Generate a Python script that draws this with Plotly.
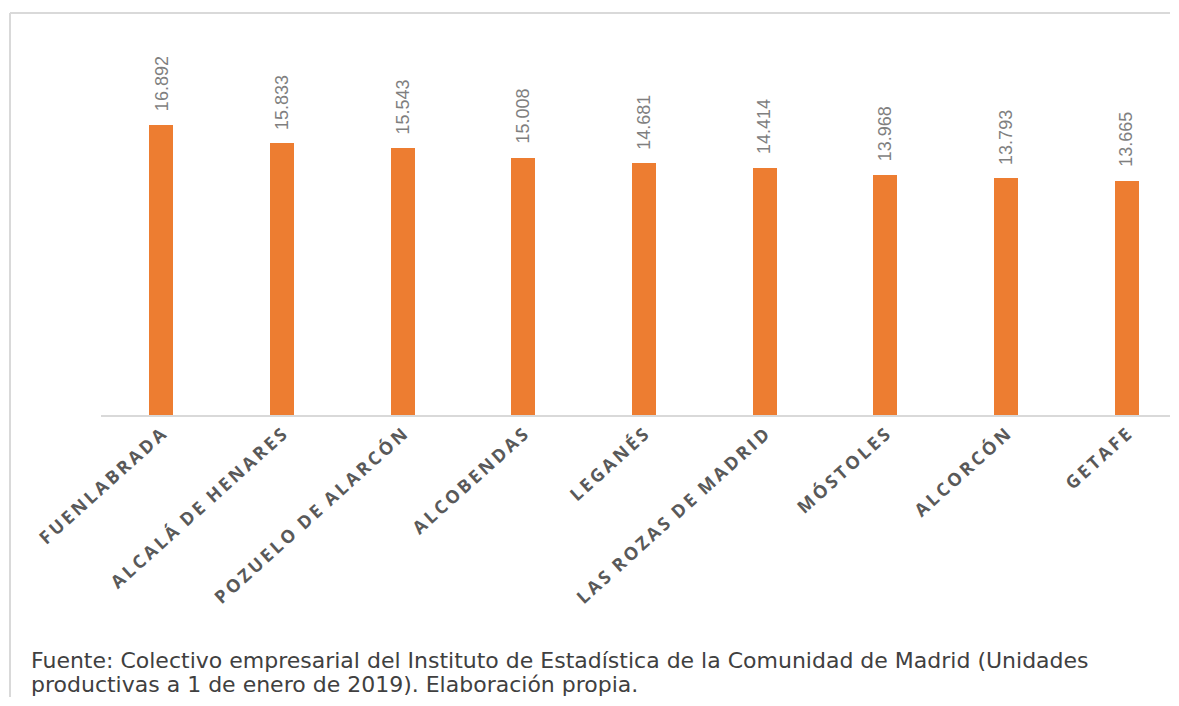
import plotly.graph_objects as go

municipios = [
    "FUENLABRADA",
    "ALCALÁ DE HENARES",
    "POZUELO DE ALARCÓN",
    "ALCOBENDAS",
    "LEGANÉS",
    "LAS ROZAS DE MADRID",
    "MÓSTOLES",
    "ALCORCÓN",
    "GETAFE",
]
unidades = [16.892, 15.833, 15.543, 15.008, 14.681, 14.414, 13.968, 13.793, 13.665]
etiquetas = ["16.892", "15.833", "15.543", "15.008", "14.681", "14.414", "13.968", "13.793", "13.665"]

fuente_1 = "Fuente: Colectivo empresarial del Instituto de Estadística de la Comunidad de Madrid (Unidades"
fuente_2 = "productivas a 1 de enero de 2019). Elaboración propia."

# la página tiene 8px de margen en el body; se reduce el tamaño para no provocar scroll
OFF = 8
W, H = 1179 - 2 * OFF - 1, 706 - 2 * OFF - 1
L, T = 101 - OFF, 40 - OFF
BASE = 415 - OFF
B = H - BASE
plot_w = W - L
plot_h = BASE - T
PX_CAT = 120.66  # píxeles por categoría en el original


def px_x(p):
    return (p - OFF - L) / plot_w


def px_y(p):
    return (BASE - (p - OFF)) / plot_h


def espaciado(s):
    # imita el espaciado entre letras de Excel
    return "\u2002".join("\u2009".join(w) for w in s.split(" "))


fig = go.Figure(
    go.Bar(
        x=municipios,
        y=unidades,
        width=0.2,
        marker=dict(color="#ED7D31", line=dict(width=0)),
        hoverinfo="skip",
    )
)

for m, v, t in zip(municipios, unidades, etiquetas):
    fig.add_annotation(
        x=m, y=v, text=t, showarrow=False, textangle=-90,
        xanchor="center", yanchor="bottom", yshift=12,
        font=dict(family="Liberation Sans", size=18, color="#7F7F7F"),
    )

for texto, yc in [(fuente_1, 660), (fuente_2, 684)]:
    fig.add_annotation(
        xref="paper", yref="paper", x=px_x(29), y=px_y(yc),
        xanchor="left", yanchor="middle", align="left", showarrow=False,
        text=texto,
        font=dict(family="DejaVu Sans", size=22, color="#404040"),
    )

# marco del gráfico (recortado): solo se ven el borde superior y el izquierdo
borde = dict(color="#D9D9D9", width=2)
fig.add_shape(type="line", xref="paper", yref="paper",
              x0=px_x(10), x1=1, y0=px_y(13), y1=px_y(13), line=borde)
fig.add_shape(type="line", xref="paper", yref="paper",
              x0=px_x(10), x1=px_x(10), y0=px_y(13), y1=px_y(720), line=borde)

fig.update_layout(
    width=W, height=H,
    margin=dict(l=L, r=0, t=T, b=B),
    plot_bgcolor="white", paper_bgcolor="white",
    showlegend=False,
    bargap=0,
)
fig.update_xaxes(
    range=[-0.5, -0.5 + plot_w / PX_CAT],
    tickvals=municipios,
    ticktext=[espaciado(m) for m in municipios],
    showline=True, linecolor="#D9D9D9", linewidth=2,
    ticks="", tickangle=-42,
    tickfont=dict(family="Open Sans", size=18, color="#595959", weight="bold"),
    showgrid=False,
)
fig.update_yaxes(
    range=[0, plot_h / 17.15],
    visible=False, showgrid=False, zeroline=False,
)

fig.write_html("out.html")
